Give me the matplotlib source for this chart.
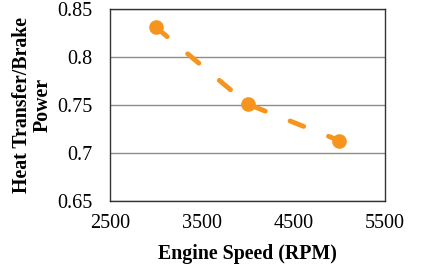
import matplotlib
matplotlib.use("Agg")
import matplotlib.pyplot as plt

speed = [3000, 4000, 5000]
ratio = [0.831, 0.751, 0.713]
xticks = [2500, 3500, 4500, 5500]
yticks = [0.65, 0.7, 0.75, 0.8, 0.85]

plt.rcParams['font.family'] = ['Liberation Serif']
fig = plt.figure(figsize=(4.27, 2.66), dpi=100)
ax = fig.add_axes([0.258, 0.244, 0.644, 0.722])
color = '#F7941D'
ax.plot(speed, ratio, linestyle=(0, (3, 5.5)), color=color, lw=3.5,
        marker='o', markersize=9.5, dash_capstyle='round')
ax.set_xlim(2500, 5500)
ax.set_ylim(0.65, 0.85)
ax.set_xticks(xticks)
ax.set_yticks(yticks)
ax.set_xticklabels([str(v) for v in xticks])
ax.set_yticklabels(['0.65', '0.7', '0.75', '0.8', '0.85'])
ax.tick_params(length=0, labelsize=14.5)
ax.tick_params(axis='x', pad=9)
ax.tick_params(axis='y', pad=13)
ax.yaxis.grid(True, color='#8c8c8c', lw=1)
ax.set_axisbelow(True)
for s in ax.spines.values():
    s.set_color('#333333')
    s.set_linewidth(1)
ax.set_xlabel('Engine Speed (RPM)', fontsize=14.3, fontweight='bold', labelpad=8)
ax.set_ylabel('Heat Transfer/Brake\nPower', fontsize=14.3, fontweight='bold', labelpad=3, linespacing=1.05)
fig.savefig('out.png', dpi=100)
